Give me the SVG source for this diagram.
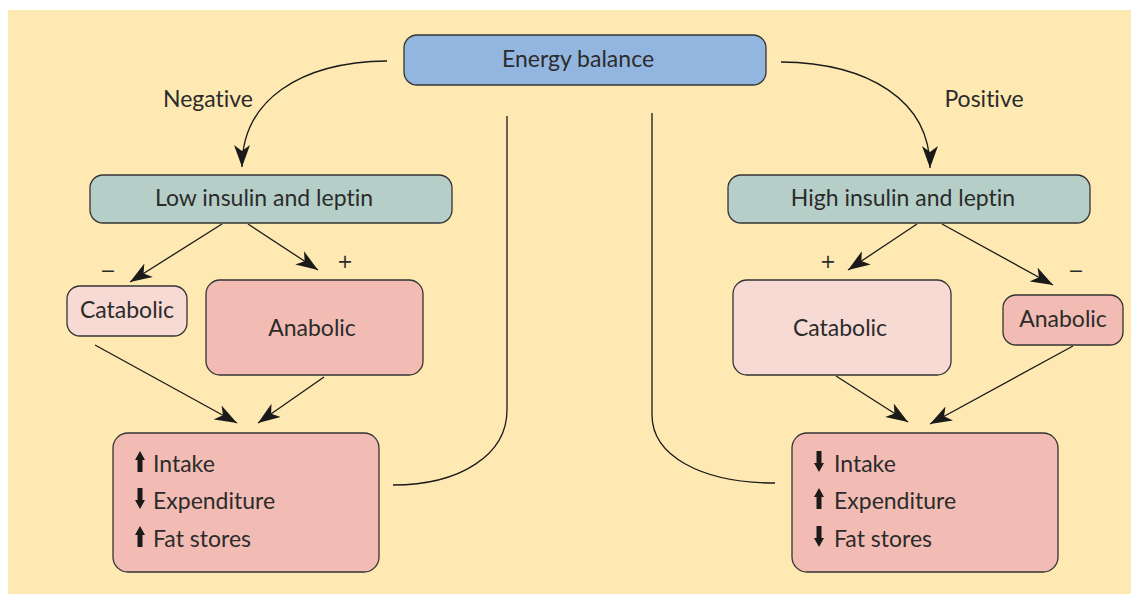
<svg xmlns="http://www.w3.org/2000/svg" width="1131" height="594" viewBox="0 0 1131 594">
<defs>
<marker id="ah" markerUnits="userSpaceOnUse" markerWidth="24" markerHeight="18" viewBox="0 0 24 18" refX="22" refY="9" orient="auto">
<path d="M0,1 L22,9 L0,17 L6,9 Z" fill="#1a1a1a"/>
</marker>
<path id="up" d="M0,-21 L5,-12 L2.5,-12 L2.5,0 L-2.5,0 L-2.5,-12 L-5,-12 Z"/>
<path id="dn" d="M0,0 L5,-9 L2.5,-9 L2.5,-21 L-2.5,-21 L-2.5,-9 L-5,-9 Z"/>
</defs>
<style>
.box{stroke:#333;stroke-width:1.3}
.blue{fill:#93B6E0}
.green{fill:#B5CFC8}
.lp{fill:#F8DAD4}
.dp{fill:#F2BCB4}
text{font-family:Lato,"Open Sans",sans-serif;font-size:23px;fill:#2b2b2b;font-variant-ligatures:none}
.c{text-anchor:middle}
.sign{font-family:"DejaVu Sans",sans-serif;font-size:19px}
.conn path{fill:none;stroke:#1a1a1a;stroke-width:1.3}
.ic{fill:#1a1a1a}
</style>
<rect x="8" y="10" width="1123" height="584" fill="#FFE9B3"/>
<g class="conn" id="connectors">
<path d="M387,61 C300,62 242,100 242,167" marker-end="url(#ah)"/>
<path d="M781,62 C868,63 930,100 930,168" marker-end="url(#ah)"/>
<path d="M222,224 L130,282" marker-end="url(#ah)"/>
<path d="M248,224 L318,270" marker-end="url(#ah)"/>
<path d="M917,224 L848,270" marker-end="url(#ah)"/>
<path d="M942,224 L1053,285" marker-end="url(#ah)"/>
<path d="M95,345 L237,423" marker-end="url(#ah)"/>
<path d="M324,377 L258,423" marker-end="url(#ah)"/>
<path d="M836,376 L908,422" marker-end="url(#ah)"/>
<path d="M1073,346 L930,424" marker-end="url(#ah)"/>
<path d="M507,116 L507,410 C507,455 460,485 393,485"/>
<path d="M652,113 L652,415 C652,455 700,483 775,483"/>
</g>
<g id="labels">
<text x="108" y="277" class="c sign">−</text>
<text x="345" y="268" class="c sign">+</text>
<text x="828" y="268" class="c sign">+</text>
<text x="1076" y="277" class="c sign">−</text>
<text x="208" y="107" class="c">Negative</text>
<text x="984" y="107" class="c">Positive</text>
</g>
<g id="energy-balance">
<rect class="box blue" x="404" y="35" width="362" height="50" rx="13"/>
<text x="578" y="67" class="c">Energy balance</text>
</g>
<g id="low-insulin">
<rect class="box green" x="90" y="175" width="362" height="48" rx="13"/>
<text x="264" y="206" class="c">Low insulin and leptin</text>
</g>
<g id="high-insulin">
<rect class="box green" x="728" y="175" width="362" height="48" rx="13"/>
<text x="903" y="206" class="c">High insulin and leptin</text>
</g>
<g id="left-catabolic">
<rect class="box lp" x="67" y="286" width="120" height="50" rx="13"/>
<text x="127" y="318" class="c">Catabolic</text>
</g>
<g id="left-anabolic">
<rect class="box dp" x="206" y="280" width="217" height="95" rx="14"/>
<text x="312" y="336" class="c">Anabolic</text>
</g>
<g id="right-catabolic">
<rect class="box lp" x="733" y="280" width="218" height="95" rx="14"/>
<text x="840" y="336" class="c">Catabolic</text>
</g>
<g id="right-anabolic">
<rect class="box dp" x="1003" y="295" width="120" height="50" rx="13"/>
<text x="1063" y="327" class="c">Anabolic</text>
</g>
<g id="left-effects">
<rect class="box dp" x="113" y="433" width="266" height="139" rx="15"/>
<use href="#up" class="ic" x="140" y="472"/>
<use href="#dn" class="ic" x="140" y="509"/>
<use href="#up" class="ic" x="140" y="547"/>
<text x="153" y="472">Intake</text>
<text x="153" y="509">Expenditure</text>
<text x="153" y="547">Fat stores</text>
</g>
<g id="right-effects">
<rect class="box dp" x="792" y="433" width="266" height="139" rx="15"/>
<use href="#dn" class="ic" x="819" y="472"/>
<use href="#up" class="ic" x="819" y="509"/>
<use href="#dn" class="ic" x="819" y="547"/>
<text x="834" y="472">Intake</text>
<text x="834" y="509">Expenditure</text>
<text x="834" y="547">Fat stores</text>
</g>
</svg>
